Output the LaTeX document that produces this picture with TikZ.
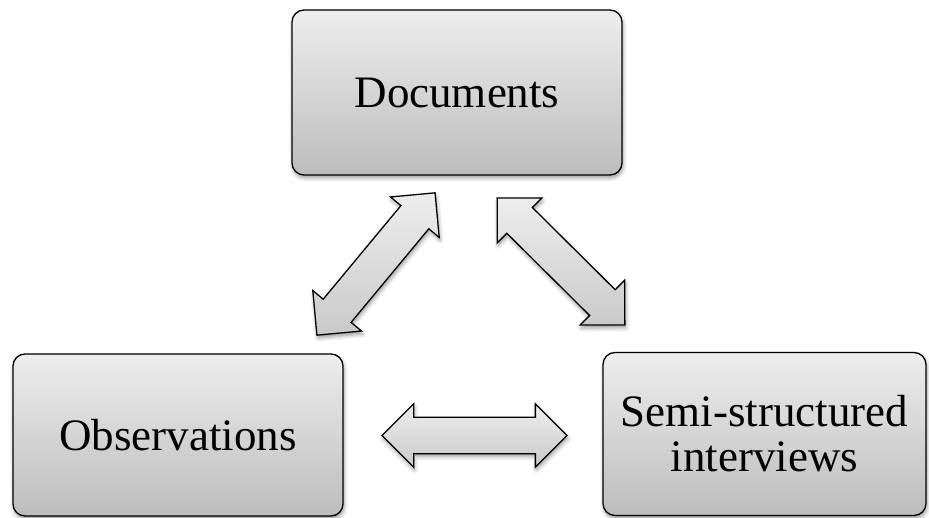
\documentclass[tikz,border=0pt]{standalone}
\usepackage{fontspec}
\setmainfont{Liberation Serif}
\usetikzlibrary{shapes.arrows,shadows.blur}

\begin{document}
\begin{tikzpicture}[x=1pt,y=1pt,line width=1.3pt,
                    box node/.style={rectangle,rounded corners=12pt,draw,
                      top color=gray!14,bottom color=gray!52,inner sep=0pt,
                      align=center,font=\fontsize{45}{45}\selectfont,
                      blur shadow={shadow xshift=1pt,shadow yshift=-3pt,shadow blur radius=4pt}},
                    link arrow/.style={double arrow,draw,
                      top color=gray!14,bottom color=gray!42,
                      inner xsep=0pt,inner ysep=17.5pt,double arrow head extend=13.5pt,
                      blur shadow={shadow xshift=1pt,shadow yshift=-3pt,shadow blur radius=4pt}}]
       \useasboundingbox (0,0) rectangle (929,517);

       \node[box node,minimum width=330pt,minimum height=165pt] (docs) at (457,424.5) {Documents};
       \node[box node,minimum width=330pt,minimum height=162pt] (obs) at (178,82) {Observations};
       \node[box node,minimum width=323pt,minimum height=163pt] (interv) at (764.5,83) {Semi-structured\\interviews};

       \node[link arrow,minimum height=185pt,rotate=50.3] (docsobs) at (376,253) {};
       \node[link arrow,minimum height=180pt,rotate=-44.8] (docsinterv) at (561,255.5) {};
       \node[link arrow,minimum height=185pt] (obsinterv) at (474.5,81.5) {};
     \end{tikzpicture}
\end{document}
